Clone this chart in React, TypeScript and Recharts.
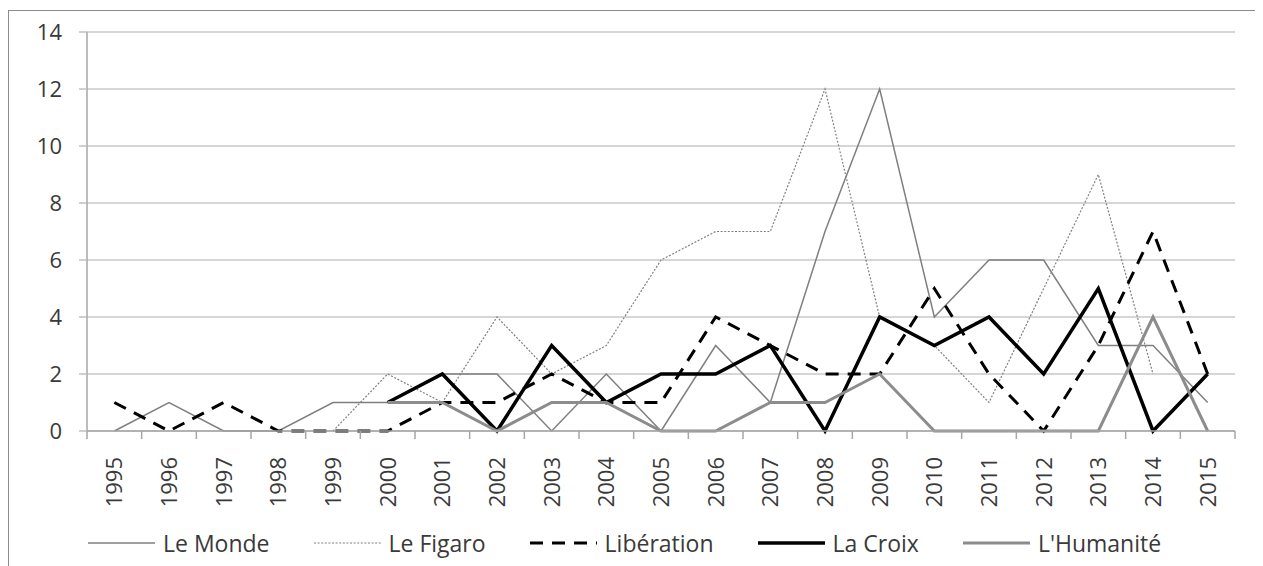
import React from 'react';
import { LineChart, Line, XAxis, YAxis, CartesianGrid, Legend } from 'recharts';

const years = ['1995', '1996', '1997', '1998', '1999', '2000', '2001', '2002', '2003', '2004', '2005', '2006', '2007', '2008', '2009', '2010', '2011', '2012', '2013', '2014', '2015'];
const leMonde = [0, 1, 0, 0, 1, 1, 2, 2, 0, 2, 0, 3, 1, 7, 12, 4, 6, 6, 3, 3, 1];
const leFigaro = [null, null, null, null, 0, 2, 1, 4, 2, 3, 6, 7, 7, 12, 4, 3, 1, 5, 9, 2, null];
const liberation = [1, 0, 1, 0, 0, 0, 1, 1, 2, 1, 1, 4, 3, 2, 2, 5, 2, 0, 3, 7, 2];
const laCroix = [null, null, null, null, null, 1, 2, 0, 3, 1, 2, 2, 3, 0, 4, 3, 4, 2, 5, 0, 2];
const humanite = [null, null, null, null, null, 1, 1, 0, 1, 1, 0, 0, 1, 1, 2, 0, 0, 0, 0, 4, 0];
const yTicks = [0, 2, 4, 6, 8, 10, 12, 14];

const FONT = "'Open Sans', 'DejaVu Sans', sans-serif";
const TEXT = '#3a3a3a';
const AXIS = '#a6a6a6';
const HALF_BAND = 27.33;

const series = [
  { key: 'leMonde', name: 'Le Monde', stroke: '#7f7f7f', width: 1.5, dash: undefined as string | undefined },
  { key: 'leFigaro', name: 'Le Figaro', stroke: '#808080', width: 1.2, dash: '2 1.6' },
  { key: 'liberation', name: 'Libération', stroke: '#000000', width: 3, dash: '13 9' },
  { key: 'laCroix', name: 'La Croix', stroke: '#000000', width: 3.5, dash: undefined },
  { key: 'humanite', name: "L'Humanité", stroke: '#8c8c8c', width: 3, dash: undefined },
];

const data = years.map((y, i) => ({
  year: y,
  leMonde: leMonde[i],
  leFigaro: leFigaro[i],
  liberation: liberation[i],
  laCroix: laCroix[i],
  humanite: humanite[i],
}));

const XTick = (props: any) => {
  const { x, y, payload, index, visibleTicksCount } = props;
  const off = payload && payload.offset ? payload.offset : HALF_BAND;
  const isLast = index === (visibleTicksCount ?? years.length) - 1;
  return (
    <g>
      <line x1={x - off} x2={x - off} y1={y} y2={y + 8} stroke={AXIS} strokeWidth={1.5} />
      {isLast && <line x1={x + off} x2={x + off} y1={y} y2={y + 8} stroke={AXIS} strokeWidth={1.5} />}
      <text
        x={x}
        y={y + 26}
        transform={`rotate(-90, ${x}, ${y + 26})`}
        textAnchor="end"
        dy="0.36em"
        fontSize={22}
        fill={TEXT}
        fontFamily={FONT}
      >
        {payload.value}
      </text>
    </g>
  );
};

const LegendContent = () => (
  <div
    style={{
      display: 'flex',
      alignItems: 'center',
      paddingLeft: 79,
      height: 32,
      fontFamily: FONT,
      fontSize: 23,
      color: TEXT,
    }}
  >
    {series.map((s) => (
      <div key={s.key} style={{ display: 'flex', alignItems: 'center', marginRight: 44 }}>
        <svg width={67} height={10} style={{ display: 'block' }}>
          <line x1={0} x2={67} y1={5} y2={5} stroke={s.stroke} strokeWidth={s.width} strokeDasharray={s.dash} />
        </svg>
        <span style={{ marginLeft: 8, lineHeight: '32px', whiteSpace: 'nowrap' }}>{s.name}</span>
      </div>
    ))}
  </div>
);

export default function App() {
  return (
    <div
      style={{
        position: 'relative',
        top: 2,
        width: 1254,
        height: 600,
        border: '1px solid #8c8c8c',
        boxSizing: 'border-box',
        background: '#fff',
      }}
    >
      <LineChart
        width={1252}
        height={560}
        data={data}
        margin={{ top: 21, right: 26, bottom: 12, left: 0 }}
      >
        <CartesianGrid vertical={false} stroke="#c8c8c8" strokeWidth={1.5} />
        <XAxis
          dataKey="year"
          interval={0}
          height={96}
          padding={{ left: HALF_BAND, right: HALF_BAND }}
          tickSize={0}
          tickMargin={0}
          tickLine={false}
          axisLine={{ stroke: AXIS, strokeWidth: 1.5 }}
          tick={<XTick />}
        />
        <YAxis
          width={78}
          domain={[0, 14]}
          ticks={yTicks}
          interval={0}
          tickSize={8}
          tickMargin={17}
          axisLine={{ stroke: AXIS, strokeWidth: 1.5 }}
          tickLine={{ stroke: '#c0c0c0', strokeWidth: 1.5 }}
          tick={{ fontSize: 22, fill: TEXT, fontFamily: FONT }}
        />
        <Legend
          verticalAlign="bottom"
          height={32}
          content={<LegendContent />}
          wrapperStyle={{ left: 0, width: 1252 }}
        />
        {series.map((s) => (
          <Line
            key={s.key}
            type="linear"
            dataKey={s.key}
            name={s.name}
            stroke={s.stroke}
            strokeWidth={s.width}
            strokeDasharray={s.dash}
            dot={false}
            activeDot={false}
            connectNulls={false}
            isAnimationActive={false}
          />
        ))}
      </LineChart>
    </div>
  );
}
